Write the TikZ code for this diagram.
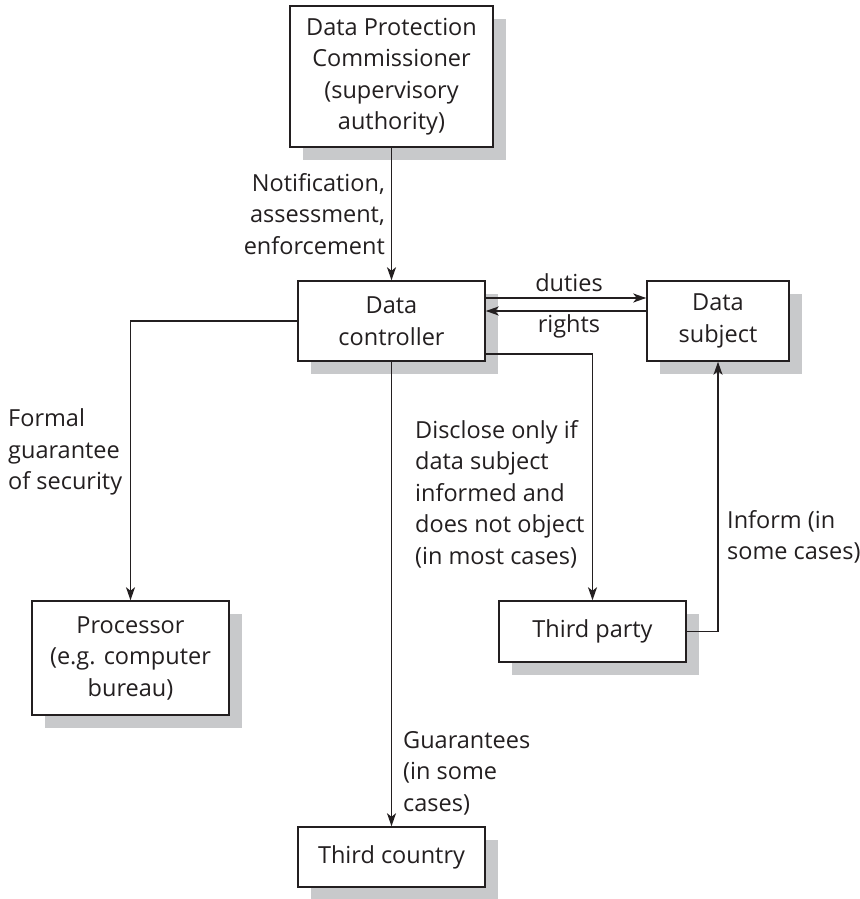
\documentclass[tikz,border=0pt]{standalone}
\usepackage{fontspec}
\setmainfont{Open Sans}
\usetikzlibrary{arrows.meta,shadows,positioning}
\definecolor{shadowgray}{HTML}{C8C9CB}
\definecolor{ink}{HTML}{231F20}
\begin{document}
\begin{tikzpicture}[x=1pt,y=-1pt,
  every node/.style={font=\fontsize{23.5}{31.5}\selectfont, text=ink},
  box/.style={draw=ink, line width=1.5pt, fill=white, inner sep=0pt, align=center,
    drop shadow={shadow xshift=13pt, shadow yshift=-13pt, fill=shadowgray, opacity=1}},
  lbl/.style={inner sep=0pt, align=left},
  arr/.style={draw=ink, line width=1.4pt, -{Stealth[length=13pt,width=9pt,inset=3.5pt]}},
  ln/.style={draw=ink, line width=1.4pt}]
\useasboundingbox (0,0) rectangle (859,899);
\node[box, minimum width=203pt, minimum height=141pt] (dpc) at (391.5,76.5)
  {Data Protection\\Commissioner\\(supervisory\\authority)};
\node[box, minimum width=187pt, minimum height=80pt] (dc) at (391.5,321) {Data\\controller};
\node[box, minimum width=142pt, minimum height=80pt] (ds) at (718,321) {Data\\subject};
\node[box, minimum width=197pt, minimum height=114pt] (proc) at (130.5,658)
  {Processor\\(e.g. computer\\bureau)};
\node[box, minimum width=187pt, minimum height=61pt] (tp) at (592.5,631.5) {Third party};
\node[box, minimum width=187pt, minimum height=60pt] (tc) at (391.5,857) {Third country};

\draw[arr] (dpc) -- (dc);
\draw[arr] ([yshift=23pt]dc.east) -- ([yshift=23pt]ds.west);
\draw[arr] ([yshift=10pt]ds.west) -- ([yshift=10pt]dc.east);
\draw[arr] ([yshift=-33pt]dc.east) -| (tp.north);
\draw[arr] (dc.west) -| (proc.north);
\draw[arr] (dc) -- (tc);
\draw[arr] (tp.east) -| (ds.south);

\node[lbl, align=right, anchor=east] (l1) at (385,214) {Notification,\\assessment,\\enforcement};
\node[lbl, anchor=west] (l2) at (8,452) {Formal\\guarantee\\of security};
\node[lbl, anchor=west] (l3) at (415,494) {Disclose only if\\data subject\\informed and\\does not object\\(in most cases)};
\node[lbl, anchor=west] (l4) at (727,537) {Inform (in\\some cases)};
\node[lbl, anchor=west] (l5) at (403,773) {Guarantees\\(in some\\cases)};
\node[lbl] (l6) at (569,283) {duties};
\node[lbl] (l7) at (569,326) {rights};
\end{tikzpicture}
\end{document}
